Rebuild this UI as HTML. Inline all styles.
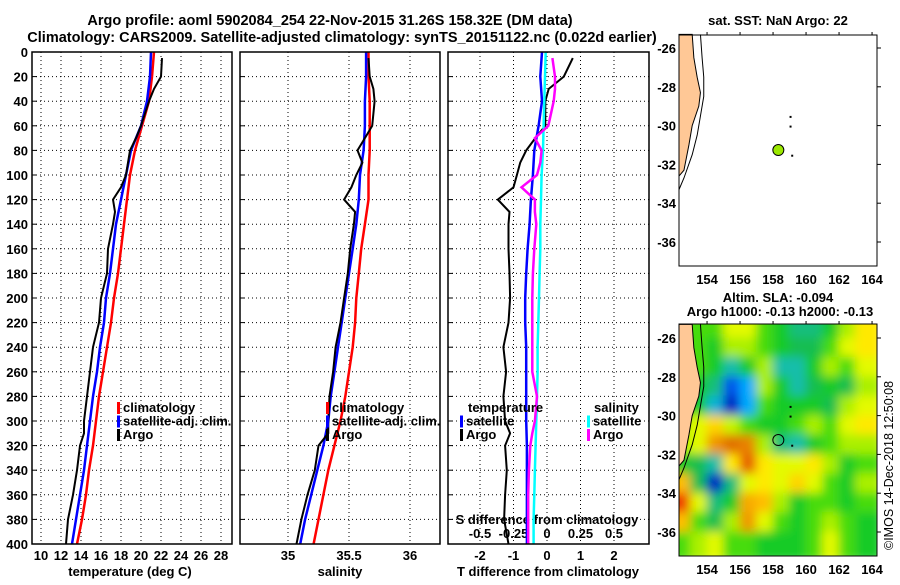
<!DOCTYPE html>
<html><head><meta charset="utf-8"><style>
body{margin:0;background:#fff}
svg text{font-family:"Liberation Sans",sans-serif;font-weight:bold;font-size:13px;fill:#000}
</style></head><body>
<svg id="s" width="900" height="580" xmlns="http://www.w3.org/2000/svg">
<defs>
<filter id="blur" x="-10%" y="-10%" width="120%" height="120%"><feGaussianBlur stdDeviation="5"/></filter>
<clipPath id="m2clip"><rect x="679" y="324" width="198" height="232"/></clipPath>
</defs>
<text x="330" y="25" text-anchor="middle" style="font-size:14.5px">Argo profile: aoml 5902084_254 22-Nov-2015 31.26S 158.32E (DM data)</text>
<text x="342" y="42" text-anchor="middle" style="font-size:14.5px">Climatology: CARS2009. Satellite-adjusted climatology: synTS_20151122.nc (0.022d earlier)</text>
<g id="g"></g>
<text x="778" y="25" text-anchor="middle">sat. SST: NaN Argo: 22</text>
<text x="778" y="302" text-anchor="middle">Altim. SLA: -0.094</text>
<text x="780" y="316" text-anchor="middle">Argo h1000: -0.13 h2000: -0.13</text>
<text transform="translate(893,550) rotate(-90)" style="font-weight:normal;font-size:12.5px">©IMOS 14-Dec-2018 12:50:08</text>
</svg>
<script>
// ---- data ----
const depthTicks=[0,20,40,60,80,100,120,140,160,180,200,220,240,260,280,300,320,340,360,380,400];
const tempTicks=[10,12,14,16,18,20,22,24,26,28];
const salTicks=[35,35.5,36];
const tdiffTicks=[-2,-1,0,1,2];
const sdiffTicks=[-0.5,-0.25,0,0.25,0.5];
const lonTicks=[154,156,158,160,162,164];
const latTicks=[-26,-28,-30,-32,-34,-36];
const climDepth=[0,20,40,60,80,100,120,140,160,180,200,220,240,260,280,300,320,340,360,380,400];
const tempClim=[21.3,21.1,20.8,20.1,19.4,18.9,18.6,18.3,18.0,17.7,17.3,17.0,16.6,16.2,15.8,15.5,15.2,14.8,14.5,14.1,13.6];
const tempSat=[21.0,20.9,20.6,20.0,19.0,18.5,18.0,17.5,17.2,16.9,16.5,16.3,15.9,15.6,15.2,14.9,14.6,14.3,13.9,13.5,13.1];
const salClim=[35.66,35.66,35.67,35.67,35.67,35.66,35.66,35.63,35.60,35.58,35.56,35.55,35.53,35.50,35.47,35.43,35.38,35.33,35.29,35.25,35.21];
const salSat=[35.64,35.64,35.63,35.63,35.62,35.59,35.58,35.56,35.53,35.50,35.47,35.44,35.41,35.38,35.35,35.33,35.29,35.24,35.19,35.14,35.10];
const argoDepth=[5,20,30,40,60,70,80,90,100,110,120,130,140,160,180,200,220,240,260,280,300,310,320,340,360,380,400];
const tempArgo=[22.1,22.0,21.3,20.8,20.0,19.5,18.9,18.7,18.5,18.0,17.2,17.4,17.2,16.7,16.6,16.0,15.8,15.2,14.9,14.6,14.3,14.3,13.9,13.6,13.2,12.7,12.5];
const salArgo=[35.66,35.67,35.70,35.71,35.69,35.63,35.57,35.61,35.56,35.52,35.46,35.55,35.54,35.51,35.49,35.46,35.43,35.39,35.37,35.34,35.33,35.33,35.25,35.22,35.16,35.11,35.07];
const tdiffArgo=[0.77,0.5,0.05,-0.05,-0.05,-0.35,-0.62,-0.8,-0.9,-1.0,-1.47,-1.12,-1.15,-1.15,-1.12,-1.1,-1.15,-1.3,-1.22,-1.3,-1.25,-1.1,-1.25,-1.2,-1.25,-1.28,-1.15];
const tdiffSat=[-0.15,-0.2,-0.15,-0.25,-0.38,-0.42,-0.48,-0.52,-0.58,-0.62,-0.65,-0.65,-0.62,-0.62,-0.62,-0.62,-0.6,-0.6,-0.6,-0.6,-0.6];
const sdiffSat=[-0.01,-0.015,-0.02,-0.025,-0.03,-0.04,-0.045,-0.05,-0.05,-0.055,-0.06,-0.065,-0.07,-0.07,-0.075,-0.08,-0.085,-0.09,-0.095,-0.1,-0.1];
const sdiffArgo=[0.04,0.06,0.06,0.05,0.01,-0.09,-0.04,-0.05,-0.075,-0.19,-0.09,-0.09,-0.08,-0.095,-0.105,-0.11,-0.11,-0.11,-0.11,-0.075,-0.09,-0.11,-0.125,-0.135,-0.14,-0.14,-0.14];
const slaLat=[-25.5,-26.5,-27.5,-28.5,-29.5,-30.5,-31.5,-32.5,-33.5,-34.5,-35.5,-36.5];
const slaLon=[152.5,153.5,154.5,155.5,156.5,157.5,158.5,159.5,160.5,161.5,162.5,163.5];
const slaGrid=[
[0.1,0.1,0.1,0.3,0.3,0.1,0.0,-0.2,-0.2,0.0,0.2,0.4],
[0.1,0.1,0.0,0.2,0.2,0.1,0.0,-0.1,-0.1,0.1,0.3,0.4],
[0.1,0.1,0.0,-0.3,0.0,0.2,-0.3,-0.3,0.0,0.2,0.1,0.3],
[0.0,0.0,-0.2,-0.7,-0.5,0.2,0.0,-0.3,-0.1,0.0,-0.1,0.2],
[0.0,0.0,-0.4,-0.9,-0.5,0.1,0.0,0.0,0.0,-0.1,0.2,0.3],
[0.2,0.3,0.45,0.25,0.1,0.0,0.0,0.1,0.2,0.1,0.3,0.4],
[0.2,0.3,0.6,0.7,0.65,0.2,-0.2,-0.3,0.0,0.1,0.2,0.2],
[0.0,-0.1,-0.3,0.4,0.75,0.4,0.3,0.3,0.4,0.2,0.0,0.1],
[0.5,-0.1,-0.9,-0.2,0.3,0.4,0.3,0.45,0.3,0.1,0.0,0.2],
[0.85,0.3,-0.2,0.0,0.55,0.5,0.2,0.0,0.1,0.1,0.0,0.1],
[0.5,0.1,-0.1,0.2,0.6,0.3,0.1,0.0,0.1,0.2,0.1,0.0],
[0.1,0.2,0.3,0.1,0.1,0.0,0.0,0.0,0.1,0.3,0.1,0.0]];
const coastLon=[152.3,153.1,153.2,153.4,153.6,153.5,153.1,152.9,152.6,152.3];
const coastLat=[-25.3,-25.3,-26.5,-27.5,-28.3,-29.0,-30.0,-31.0,-32.3,-32.6];
const isoLon=[153.6,153.7,153.8,153.8,153.6,153.4,153.1,152.6,152.3];
const isoLat=[-25.3,-26.5,-27.5,-28.5,-29.5,-30.5,-31.5,-32.7,-33.3];
const argoPos=[158.32,-31.26];

// ---- helpers ----
const NS='http://www.w3.org/2000/svg';
const G=document.getElementById('g');
function mk(tag,attrs,parent){const e=document.createElementNS(NS,tag);for(const k in attrs)e.setAttribute(k,attrs[k]);(parent||G).appendChild(e);return e;}
const Y0=52,Y1=544;
const yD=d=>Y0+(d/400)*(Y1-Y0);
const panels=[{x0:32,x1:232},{x0:240,x1:440},{x0:448,x1:649}];
const xT=t=>41+(t-10)*10;
const xS=s=>288+(s-35)*122;
const xTd=t=>547+t*33.5;
const xSd=s=>547+s*134;

function line(xs,ys,fx,color,w,name){
  const p=xs.map((v,i)=>fx(v).toFixed(1)+','+yD(ys[i]).toFixed(1)).join(' ');
  const e=mk('polyline',{points:p,fill:'none',stroke:color,'stroke-width':w});
  
  
}
panels.forEach((P,pi)=>{
  depthTicks.forEach(d=>{
    const l=mk('line',{x1:P.x0,x2:P.x1,y1:yD(d),y2:yD(d),stroke:'#000','stroke-dasharray':'1,3','stroke-width':1});
    
    
    const t=mk('line',{x1:P.x0,x2:P.x0+5,y1:yD(d),y2:yD(d),stroke:'#000'});
    
    
  });
});
depthTicks.forEach(d=>{
  const t=mk('text',{x:28,y:yD(d)+5,'text-anchor':'end'});t.textContent=d;
  
  
});
function xgrid(ticks,fx,P,labelY,fmt,name){
  ticks.forEach(v=>{
    const x=fx(v);
    const l=mk('line',{x1:x,x2:x,y1:Y0,y2:Y1,stroke:'#000','stroke-dasharray':'1,3'});
    
    
    const t=mk('text',{x:x,y:labelY,'text-anchor':'middle'});t.textContent=fmt(v);
    
    
  });
}
xgrid(tempTicks,xT,panels[0],560,v=>v,'temperature');
xgrid(salTicks,xS,panels[1],560,v=>v,'salinity');
xgrid(tdiffTicks,xTd,panels[2],560,v=>v,'tdiff');
sdiffTicks.forEach(v=>{
  const t=mk('text',{x:xSd(v),y:538,'text-anchor':'middle'});t.textContent=v;
  
  
});
[['temperature (deg C)',130],['salinity',340],['T difference from climatology',548]].forEach(([s,x])=>{
  const t=mk('text',{x:x,y:576,'text-anchor':'middle'});t.textContent=s;
  
  
});
const st=mk('text',{x:547,y:524,'text-anchor':'middle'});st.textContent='S difference from climatology';



line(tempClim,climDepth,xT,'#f00',2.5,'temp-climatology-line');
line(tempSat,climDepth,xT,'#00f',2.5,'temp-satellite-line');
line(tempArgo,argoDepth,xT,'#000',2,'temp-argo-line');
line(salClim,climDepth,xS,'#f00',2.5,'sal-climatology-line');
line(salSat,climDepth,xS,'#00f',2.5,'sal-satellite-line');
line(salArgo,argoDepth,xS,'#000',2,'sal-argo-line');
line(tdiffArgo,argoDepth,xTd,'#000',2,'tdiff-argo-line');
line(tdiffSat,climDepth,xTd,'#00f',2.5,'tdiff-satellite-line');
line(sdiffSat,climDepth,xSd,'#0ff',2.5,'sdiff-satellite-line');
line(sdiffArgo,argoDepth,xSd,'#f0f',2.5,'sdiff-argo-line');

panels.forEach(P=>{
  const r=mk('rect',{x:P.x0,y:Y0,width:P.x1-P.x0,height:Y1-Y0,fill:'none',stroke:'#000','stroke-width':1.5});
  
  
});
function leg(x,y,color,label){
  const r=mk('rect',{x:x,y:y-10,width:3,height:12,fill:color});
  
  
  const t=mk('text',{x:x+6,y:y});t.textContent=label;
  
  
}
[['#f00','climatology'],['#00f','satellite-adj. clim.'],['#000','Argo']].forEach((a,i)=>leg(117,412+i*13.5,a[0],a[1]));
[['#f00','climatology'],['#00f','satellite-adj. clim.'],['#000','Argo']].forEach((a,i)=>leg(326,412+i*13.5,a[0],a[1]));
const lt=mk('text',{x:468,y:412});lt.textContent='temperature';
const ls=mk('text',{x:594,y:412});ls.textContent='salinity';
leg(460,425.5,'#00f','satellite');leg(460,439,'#000','Argo');
leg(587,425.5,'#0ff','satellite');leg(587,439,'#f0f','Argo');

const mx=l=>679+(l-152.3)*16.5;
function mapFrame(top,lat0y){return la=>lat0y+(-26-la)*19.4;}
const my1=mapFrame(35,48);
const my2=mapFrame(324,338);
function colormap(v){
  const stops=[[-1,[0,0,170]],[-0.75,[0,60,230]],[-0.5,[0,170,255]],[-0.3,[20,190,170]],[-0.1,[20,190,80]],[0.05,[20,210,20]],[0.2,[170,240,0]],[0.35,[255,255,0]],[0.5,[255,190,0]],[0.7,[225,110,0]],[1,[255,0,0]]];
  v=Math.max(-1,Math.min(1,v));
  for(let i=1;i<stops.length;i++){if(v<=stops[i][0]){const a=stops[i-1],b=stops[i],f=(v-a[0])/(b[0]-a[0]);return 'rgb('+a[1].map((c,k)=>Math.round(c+(b[1][k]-c)*f)).join(',')+')';}}
}
const hg=mk('g',{'clip-path':'url(#m2clip)'});
const hb=mk('g',{filter:'url(#blur)'},hg);
slaGrid.forEach((row,i)=>row.forEach((v,j)=>{
  let x=mx(slaLon[j]-0.5),y=my2(slaLat[i]+0.5),w=17.5,h=20.4;
  if(j===0){x-=10;w+=10;} if(j===row.length-1){w+=10;}
  if(i===0){y-=10;h+=10;} if(i===slaGrid.length-1){h+=10;}
  const c=mk('rect',{x:x-0.5,y:y-0.5,width:w,height:h,fill:colormap(v)},hb);
  
  
}));
function mapContent(my,group,name){
  const land=coastLon.map((l,i)=>mx(l)+','+my(coastLat[i])).join(' ');
  const lp=mk('polygon',{points:land+' '+mx(152.3)+','+my(-25.3),fill:'#ffc896',stroke:'#000','stroke-width':1},group);
  
  
  const iso=mk('polyline',{points:isoLon.map((l,i)=>mx(l)+','+my(isoLat[i])).join(' '),fill:'none',stroke:'#000','stroke-width':1},group);
  
  
  [[159.0,-29.5],[159.0,-30.0],[159.1,-31.5]].forEach(p=>{
    const d=mk('rect',{x:mx(p[0]),y:my(p[1]),width:2,height:2,fill:'#000'},group);
    
    
  });
}
mapContent(my2,hg,'sla-map');
const g1=mk('g',{});
mapContent(my1,g1,'sst-map');
const a1=mk('circle',{cx:mx(argoPos[0]),cy:my1(argoPos[1]),r:5.5,fill:'#9be800',stroke:'#000'});


const a2=mk('circle',{cx:mx(argoPos[0]),cy:my2(argoPos[1]),r:5.5,fill:'none',stroke:'#000'});


[[35,266,my1,'sst-map'],[324,556,my2,'sla-map']].forEach(([t,b,my,name])=>{
  const r=mk('rect',{x:679,y:t,width:198,height:b-t,fill:'none',stroke:'#000','stroke-width':1});
  
  
  lonTicks.forEach(l=>{
    const tk=mk('line',{x1:mx(l),x2:mx(l),y1:t-3,y2:t,stroke:'#000'});
    
    
    const tx=mk('text',{x:mx(l),y:b+18,'text-anchor':'middle'});tx.textContent=l;
    
    
  });
  latTicks.forEach(la=>{
    const tk=mk('line',{x1:877,x2:881,y1:my(la),y2:my(la),stroke:'#000'});
    
    
    const tx=mk('text',{x:676,y:my(la)+5,'text-anchor':'end'});tx.textContent=la;
    
    
  });
});
</script>
</body></html>
